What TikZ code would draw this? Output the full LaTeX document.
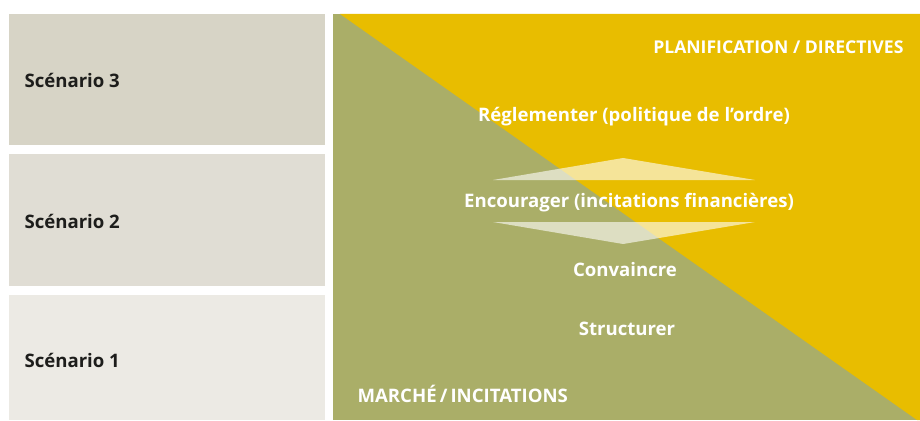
\documentclass[tikz,border=0pt]{standalone}
\usepackage{fontspec}
\setmainfont{Open Sans}
\definecolor{marche}{RGB}{170,174,104}
\definecolor{plan}{RGB}{232,189,0}
\definecolor{scenA}{RGB}{215,212,198}
\definecolor{scenB}{RGB}{224,221,212}
\definecolor{scenC}{RGB}{236,234,228}
\definecolor{txt}{RGB}{29,29,27}
\begin{document}
\begin{tikzpicture}[x=1pt, y=-1pt,
    scen/.style={anchor=base west, text=txt, font=\fontsize{18.6}{20}\selectfont\bfseries},
    lvl/.style={anchor=base, text=white, font=\fontsize{18.6}{20}\selectfont\bfseries},
    pole/.style={text=white, font=\fontsize{17.6}{20}\selectfont\bfseries}]
            \useasboundingbox (0,0) rectangle (920,420);
            % scenario boxes
            \fill[scenA] (9,14) rectangle (325,145);
            \fill[scenB] (9,154) rectangle (325,286);
            \fill[scenC] (9,295) rectangle (325,420);
            \node[scen] (s3) at (21,87) {Scénario 3};
            \node[scen] (s2) at (21,228) {Scénario 2};
            \node[scen] (s1) at (21,367) {Scénario 1};
            % market / planning triangle
            \fill[marche] (333,14) rectangle (920,420);
            \fill[plan] (340,14) -- (920,14) -- (920,420) -- (917,420) -- cycle;
            \fill[white, opacity=0.6] (493,180) -- (623,158) -- (755,180) -- cycle;
            \fill[white, opacity=0.6] (493,222) -- (623,244) -- (755,222) -- cycle;
            \node[pole, anchor=base east] (plan) at (907,53) {PLANIFICATION / DIRECTIVES};
            \node[pole, anchor=base west, font=\fontsize{18.6}{20}\selectfont\bfseries] (marche) at (354,402) {MARCHÉ\,/\,INCITATIONS};
            \node[lvl] (regl) at (634,121) {Réglementer (politique de l’ordre)};
            \node[lvl] (enc) at (629,207) {Encourager (incitations financières)};
            \node[lvl] (conv) at (625,276) {Convaincre};
            \node[lvl] (struct) at (627,335) {Structurer};
        \end{tikzpicture}
\end{document}
